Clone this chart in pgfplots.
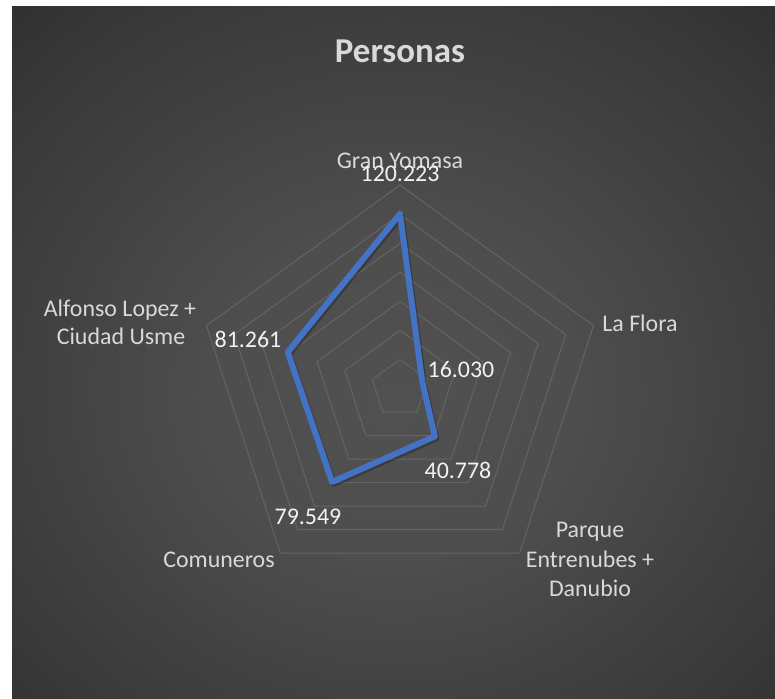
\documentclass[border=0pt]{standalone}
\usepackage{pgfplots}
\pgfplotsset{compat=1.18}
\usepgfplotslibrary{polar}
\usepackage{fontspec}
\setmainfont{Carlito}
\definecolor{bgin}{HTML}{515151}
\definecolor{bgout}{HTML}{262626}
\definecolor{ringc}{HTML}{646464}
\definecolor{lineblue}{HTML}{4472C4}
\definecolor{labc}{HTML}{D9D9D9}
\definecolor{datc}{HTML}{F2F2F2}
\pgfdeclareradialshading{bgshade}{\pgfpoint{0bp}{-4bp}}{%
  color(0bp)=(bgin); color(12bp)=(bgin!92!bgout); color(30bp)=(bgin!45!bgout); color(45bp)=(bgout); color(60bp)=(bgout)}
\begin{document}
\begin{tikzpicture}[x=1bp,y=1bp]
\fill[white] (0,0) rectangle (775,699);
\shade[shading=bgshade] (12,0) rectangle (775,692);
\begin{polaraxis}[
  at={(400bp,310.5bp)}, anchor=center,
  scale only axis, width=406.8bp, height=406.8bp,
  ymin=0, ymax=140, xmin=0, xmax=360,
  hide axis, clip=false,
]
\addplot[ringc, line width=1bp, no marks] coordinates {(90,20) (18,20) (-54,20) (-126,20) (162,20) (90,20)};
\addplot[ringc, line width=1bp, no marks] coordinates {(90,40) (18,40) (-54,40) (-126,40) (162,40) (90,40)};
\addplot[ringc, line width=1bp, no marks] coordinates {(90,60) (18,60) (-54,60) (-126,60) (162,60) (90,60)};
\addplot[ringc, line width=1bp, no marks] coordinates {(90,80) (18,80) (-54,80) (-126,80) (162,80) (90,80)};
\addplot[ringc, line width=1bp, no marks] coordinates {(90,100) (18,100) (-54,100) (-126,100) (162,100) (90,100)};
\addplot[ringc, line width=1bp, no marks] coordinates {(90,120) (18,120) (-54,120) (-126,120) (162,120) (90,120)};
\addplot[ringc, line width=1bp, no marks] coordinates {(90,140) (18,140) (-54,140) (-126,140) (162,140) (90,140)};
\addplot[black, opacity=0.25, line width=6bp, line join=round, line cap=round, no marks, shift={(1.5bp,-2bp)}] coordinates {(90,120.223) (18,16.030) (-54,40.778) (-126,79.549) (162,81.261) (90,120.223)};
\addplot[lineblue, line width=6bp, line join=round, line cap=round, no marks] coordinates {(90,120.223) (18,16.030) (-54,40.778) (-126,79.549) (162,81.261) (90,120.223)};
\end{polaraxis}
% title
\node[anchor=base, text=labc, font=\fontsize{35}{42}\selectfont\bfseries] at (400,{699-63}) {Personas};
% category labels
\begin{scope}[every node/.style={text=labc, font=\fontsize{24}{29}\selectfont, align=center}]
\node[anchor=base] at (400,{699-169}) {Gran Yomasa};
\node[anchor=base] at (640,{699-332}) {La Flora};
\node[anchor=base] at (120,{699-317}) {Alfonso Lopez +};
\node[anchor=base] at (121,{699-345}) {Ciudad Usme};
\node[anchor=base] at (219,{699-568}) {Comuneros};
\node[anchor=base] at (590,{699-538}) {Parque};
\node[anchor=base] at (590,{699-568}) {Entrenubes +};
\node[anchor=base] at (590,{699-597}) {Danubio};
\end{scope}
% data labels
\begin{scope}[every node/.style={text=datc, font=\fontsize{24}{29}\selectfont}]
\node[anchor=base] at (400,{699-182}) {120.223};
\node[anchor=base] at (461,{699-378}) {16.030};
\node[anchor=base] at (458,{699-479}) {40.778};
\node[anchor=base] at (308,{699-525}) {79.549};
\node[anchor=base] at (248,{699-348}) {81.261};
\end{scope}
\end{tikzpicture}
\end{document}
